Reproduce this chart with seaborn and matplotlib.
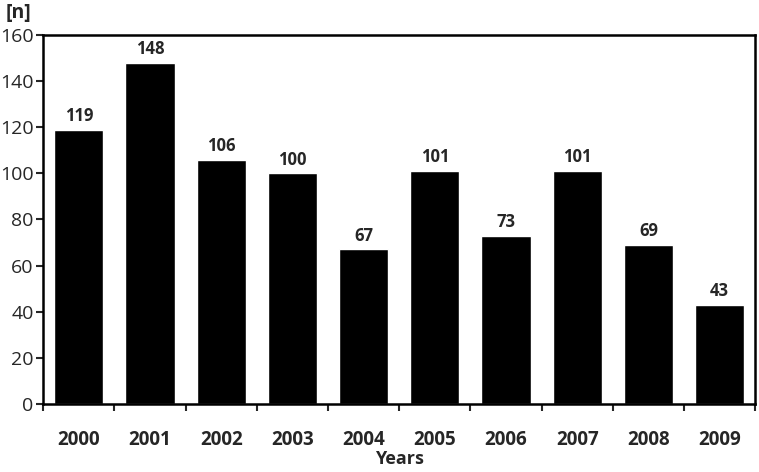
import numpy as np
import pandas as pd
import matplotlib
matplotlib.use('Agg')
import matplotlib.pyplot as plt
import seaborn as sns

# Données
years = ['2000', '2001', '2002', '2003', '2004', '2005', '2006', '2007', '2008', '2009']
counts = [119, 148, 106, 100, 67, 101, 73, 101, 69, 43]

df = pd.DataFrame({'year': years, 'n': counts})

sns.set_style('white')
plt.rcParams['font.family'] = ['Open Sans', 'DejaVu Sans']

fig = plt.figure(figsize=(7.59, 4.72), dpi=100)
ax = fig.add_axes([0.057, 0.144, 0.938, 0.782])

sns.barplot(data=df, x='year', y='n', color='black', width=0.69, saturation=1, ax=ax)

for i, v in enumerate(counts):
    ax.text(i, v + 2, str(v), ha='center', va='bottom', fontsize=12, fontweight='bold')

ax.set_ylim(0, 160)
ax.set_xlim(-0.5, len(years) - 0.5)
ax.set_yticks(range(0, 161, 20))
ax.tick_params(axis='y', labelsize=14, length=5, width=1.5, direction='out', left=True, pad=2)
ax.tick_params(axis='x', labelsize=13.5, length=0, pad=19)
for lab in ax.get_xticklabels():
    lab.set_fontweight('bold')

ax.set_xticks(np.arange(-0.5, len(years), 1), minor=True)
ax.tick_params(axis='x', which='minor', length=5, width=1.5, direction='out', bottom=True)

for s in ax.spines.values():
    s.set_linewidth(1.8)
    s.set_color('black')

ax.set_xlabel('Years', fontsize=13, fontweight='bold', labelpad=0)
ax.set_ylabel('')
fig.text(0.008, 0.972, '[n]', fontsize=14, fontweight='bold', va='center')

fig.savefig('out.png', dpi=100)
